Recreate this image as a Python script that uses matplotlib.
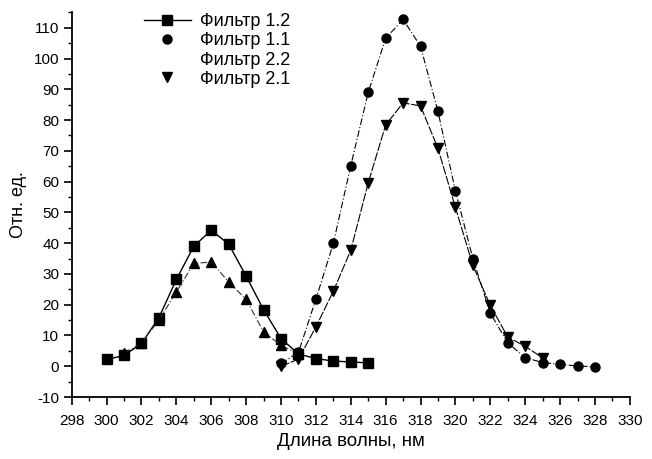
import matplotlib
matplotlib.use("Agg")
import matplotlib.pyplot as plt
from matplotlib.lines import Line2D
from matplotlib.ticker import MultipleLocator

plt.rcParams['font.family'] = ['Liberation Sans', 'DejaVu Sans']
plt.rcParams['axes.unicode_minus'] = False

# data
x_12 = [300, 301, 302, 303, 304, 305, 306, 307, 308, 309, 310, 311, 312, 313, 314, 315]
y_12 = [2.2, 3.5, 7.4, 15.8, 28.2, 39.0, 44.2, 39.7, 29.3, 18.4, 9.0, 4.0, 2.5, 1.7, 1.4, 1.1]

x_22 = [301, 302, 303, 304, 305, 306, 307, 308, 309, 310, 311]
y_22 = [4.3, 7.5, 15.0, 24.2, 33.4, 33.9, 27.4, 21.7, 11.2, 6.8, 4.0]

x_11 = [310, 311, 312, 313, 314, 315, 316, 317, 318, 319, 320, 321, 322, 323, 324, 325, 326, 327, 328]
y_11 = [0.9, 4.5, 21.8, 39.9, 65.2, 89.0, 106.6, 112.7, 104.0, 82.8, 57.0, 35.0, 17.3, 7.6, 2.8, 1.2, 0.6, 0.1, -0.2]

x_21 = [310, 311, 312, 313, 314, 315, 316, 317, 318, 319, 320, 321, 322, 323, 324, 325]
y_21 = [0.0, 2.3, 12.8, 24.4, 37.7, 59.6, 78.4, 85.6, 84.6, 70.8, 51.6, 32.8, 19.8, 9.5, 6.5, 2.7]

labels = ['Фильтр 1.2', 'Фильтр 1.1', 'Фильтр 2.2', 'Фильтр 2.1']

fig = plt.figure(figsize=(6.52, 4.59), dpi=100)
ax = fig.add_axes([0.110, 0.135, 0.856, 0.838])

ax.plot(x_12, y_12, color='black', lw=1.0, ls='-', marker='s', ms=6.5, zorder=3)
ax.plot(x_22, y_22, color='#333333', lw=0.8, ls=(0, (6, 2, 1, 2)), marker='^', ms=7, mfc='black', mec='black', zorder=3)
ax.plot(x_11, y_11, color='black', lw=0.8, ls=(0, (6, 2, 1, 2)), marker='o', ms=6.5, zorder=3)
ax.plot(x_21, y_21, color='black', lw=0.8, ls=(0, (8, 1.5)), marker='v', ms=7, zorder=3)

ax.set_xlim(298, 330)
ax.set_ylim(-10, 115)
ax.xaxis.set_major_locator(MultipleLocator(2))
ax.xaxis.set_minor_locator(MultipleLocator(1))
ax.yaxis.set_minor_locator(MultipleLocator(5))
ax.set_yticks(list(range(-10, 111, 10)))

for s in ['top', 'right']:
    ax.spines[s].set_visible(False)
for s in ['left', 'bottom']:
    ax.spines[s].set_linewidth(1.3)

ax.tick_params(which='major', direction='out', length=6, width=1.2, labelsize=11, pad=3)
ax.tick_params(axis='x', which='major', pad=6)
ax.tick_params(which='minor', direction='out', length=3, width=1.0)

ax.set_xlabel('Длина волны, нм', fontsize=13.5, labelpad=4)
ax.set_ylabel('Отн. ед.', fontsize=13, labelpad=5)

handles = [
    Line2D([], [], color='black', lw=1.0, marker='s', ms=6.5),
    Line2D([], [], color='none', marker='o', ms=6.5, mfc='black', mec='black'),
    Line2D([], [], color='none', marker='none'),
    Line2D([], [], color='none', marker='v', ms=7, mfc='black', mec='black'),
]
ax.legend(handles, labels, loc='upper left', bbox_to_anchor=(0.10, 1.04),
          frameon=False, fontsize=13, handlelength=2.6, labelspacing=0.12,
          handletextpad=0.5)

fig.savefig('out.png', dpi=100)
